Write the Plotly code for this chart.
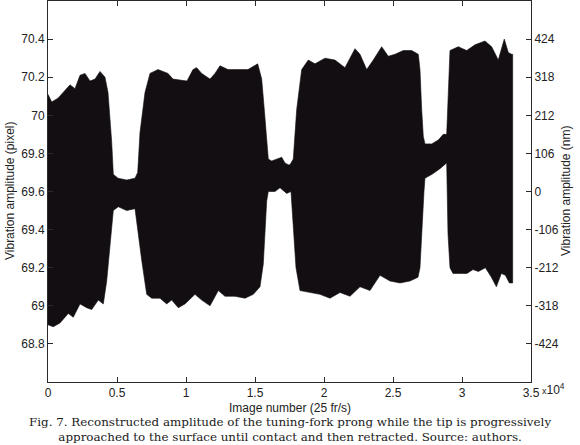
import plotly.graph_objects as go

# Upper envelope of the vibration signal (image number, pixel amplitude)
upper_x = [0, 268, 725, 1232, 1594, 1956, 2319, 2681, 3043, 3406, 3768, 4130, 4348, 4616, 4732,
           5072, 5703, 6304, 6500, 6666, 7029, 7391, 7971, 8695, 9058, 10072, 10507, 10775, 11137,
           11739, 12101, 12463, 13043, 13768, 14492, 15195, 15485, 15673, 15847, 15963, 16209,
           16934, 17173, 17412, 17535, 17774, 18021, 18383, 18861, 19347, 20071, 20796, 21521,
           22245, 22608, 23093, 23571, 24180, 24658, 25144, 25746, 26354, 26833, 26955, 27078,
           27194, 27317, 27802, 28281, 28643, 28890, 29005, 29129, 29730, 30339, 30940, 31665,
           32150, 32629, 33064, 33354, 33600, 33672]
upper_y = [70.11, 70.07, 70.09, 70.13, 70.16, 70.14, 70.21, 70.22, 70.18, 70.19, 70.23, 70.20, 70.12,
           69.86, 69.69, 69.67, 69.66, 69.67, 69.70, 69.91, 70.12, 70.22, 70.24, 70.22, 70.19, 70.18,
           70.24, 70.25, 70.22, 70.19, 70.22, 70.26, 70.24, 70.24, 70.24, 70.27, 70.19, 70.03, 69.86,
           69.77, 69.76, 69.78, 69.75, 69.74, 69.74, 69.77, 70.03, 70.24, 70.29, 70.27, 70.30, 70.29,
           70.25, 70.35, 70.32, 70.24, 70.29, 70.36, 70.31, 70.32, 70.34, 70.34, 70.32, 70.24, 70.03,
           69.89, 69.85, 69.85, 69.87, 69.90, 69.90, 70.12, 70.34, 70.36, 70.34, 70.37, 70.39, 70.36,
           70.29, 70.40, 70.33, 70.32, 70.32]

# Lower envelope of the vibration signal
lower_x = [0, 384, 870, 1471, 1833, 2319, 2804, 3166, 3645, 4007, 4253, 4493, 4732, 5094, 5703,
           6304, 6543, 6789, 7152, 7514, 8116, 8601, 8963, 9441, 9927, 10652, 11137, 11739, 12340,
           12825, 13550, 14275, 14876, 15362, 15601, 15724, 15847, 15963, 16449, 16811, 17296,
           17608, 17774, 17970, 18260, 18984, 19709, 20433, 21158, 21883, 22608, 23332, 24057,
           24782, 25506, 26231, 26811, 26955, 27100, 27245, 27317, 27825, 28405, 28890, 28984,
           29129, 29346, 29853, 30360, 30795, 31187, 31694, 32129, 32491, 32853, 33143, 33433, 33672]
lower_y = [68.90, 68.89, 68.91, 68.96, 68.94, 69.01, 68.99, 68.98, 69.03, 69.01, 69.13, 69.31, 69.50,
           69.52, 69.50, 69.51, 69.39, 69.24, 69.06, 69.04, 69.04, 69.01, 69.03, 68.99, 69.01, 69.06,
           69.03, 69.00, 69.08, 69.05, 69.05, 69.04, 69.06, 69.10, 69.22, 69.39, 69.55, 69.60, 69.60,
           69.62, 69.59, 69.60, 69.45, 69.20, 69.08, 69.07, 69.06, 69.04, 69.07, 69.05, 69.10, 69.08,
           69.16, 69.13, 69.12, 69.13, 69.15, 69.20, 69.38, 69.60, 69.67, 69.69, 69.72, 69.75, 69.38,
           69.20, 69.17, 69.17, 69.17, 69.19, 69.18, 69.20, 69.15, 69.10, 69.17, 69.16, 69.12, 69.12]

x_tickvals = [0, 5000, 10000, 15000, 20000, 25000, 30000, 35000]
x_ticktext = ["0", "0.5", "1", "1.5", "2", "2.5", "3", "3.5"]
y_tickvals = [68.8, 69.0, 69.2, 69.4, 69.6, 69.8, 70.0, 70.2, 70.4]
y_ticktext = ["68.8", "69", "69.2", "69.4", "69.6", "69.8", "70", "70.2", "70.4"]
y2_tickvals = [-424, -318, -212, -106, 0, 106, 212, 318, 424]
y2_ticktext = ["-424", "-318", "-212", "-106", "0", "106", "212", "318", "424"]

caption = ("Fig. 7. Reconstructed amplitude of the tuning-fork prong while the tip is progressively<br>"
           "approached to the surface until contact and then retracted. Source: authors.")

W, H = 580, 445
ML, MR, MT, MB = 48, 49, 1, 63
PH = H - MT - MB
PW = W - ML - MR

def py(p):
    return (H - MB - p) / PH

def px(p):
    return (p - ML) / PW

fill_col = "#120e11"
fig = go.Figure()
fig.add_trace(go.Scatter(
    x=upper_x + lower_x[::-1],
    y=upper_y + lower_y[::-1],
    fill="toself", fillcolor=fill_col, mode="lines",
    line=dict(color=fill_col, width=0.6), hoverinfo="skip", showlegend=False))
fig.add_trace(go.Scatter(x=[0], y=[0], yaxis="y2", mode="markers", marker=dict(size=1, opacity=0),
                         showlegend=False, hoverinfo="skip"))

axcol = "#2a2a2a"
tfont = dict(family="Liberation Sans, Arial", size=12, color="#222")
fig.update_layout(
    width=W, height=H, margin=dict(l=ML, r=MR, t=MT, b=MB),
    paper_bgcolor="white", plot_bgcolor="white", showlegend=False,
    xaxis=dict(range=[0, 35000], tickvals=x_tickvals, ticktext=x_ticktext,
               ticks="inside", ticklen=5, tickcolor=axcol, showline=True, linecolor=axcol,
               linewidth=1, mirror="ticks", showgrid=False, zeroline=False, tickfont=tfont),
    yaxis=dict(range=[68.6, 70.6], tickvals=y_tickvals, ticktext=y_ticktext,
               ticks="inside", ticklen=5, tickcolor=axcol, showline=True, linecolor=axcol,
               linewidth=1, mirror=True, showgrid=False, zeroline=False, tickfont=tfont),
    yaxis2=dict(range=[-530, 530], tickvals=y2_tickvals, ticktext=y2_ticktext,
                overlaying="y", side="right", ticks="inside", ticklen=5, tickcolor=axcol,
                showline=True, linecolor=axcol, linewidth=1, showgrid=False, zeroline=False,
                tickfont=tfont),
)

afont = dict(family="Liberation Sans, Arial", size=12, color="#222")
fig.add_annotation(text="Vibration amplitude (pixel)", xref="paper", yref="paper",
                   x=px(10), y=py(191), textangle=-90,
                   showarrow=False, font=afont, xanchor="center", yanchor="middle")
fig.add_annotation(text="Vibration amplitude (nm)", xref="paper", yref="paper",
                   x=px(566), y=py(191), textangle=-90,
                   showarrow=False, font=afont, xanchor="center", yanchor="middle")
fig.add_annotation(text="Image number (25 fr/s)", xref="paper", yref="paper",
                   x=px(290), y=py(408),
                   showarrow=False, font=afont, xanchor="center", yanchor="middle")
fig.add_annotation(text="<span style='font-size:9px'>x</span>10<sup>4</sup>", xref="paper", yref="paper",
                   x=px(540), y=py(389),
                   showarrow=False, font=dict(family="Liberation Sans, Arial", size=12, color="#222"),
                   xanchor="left", yanchor="middle")
fig.add_annotation(text=caption, xref="paper", yref="paper",
                   x=px(290), y=py(429),
                   showarrow=False, align="center",
                   font=dict(family="DejaVu Serif", size=11.9, color="#1a1a1a"),
                   xanchor="center", yanchor="middle")

fig.write_html("out.html", config={"displayModeBar": False},
               post_script="document.body.style.margin='0';")
